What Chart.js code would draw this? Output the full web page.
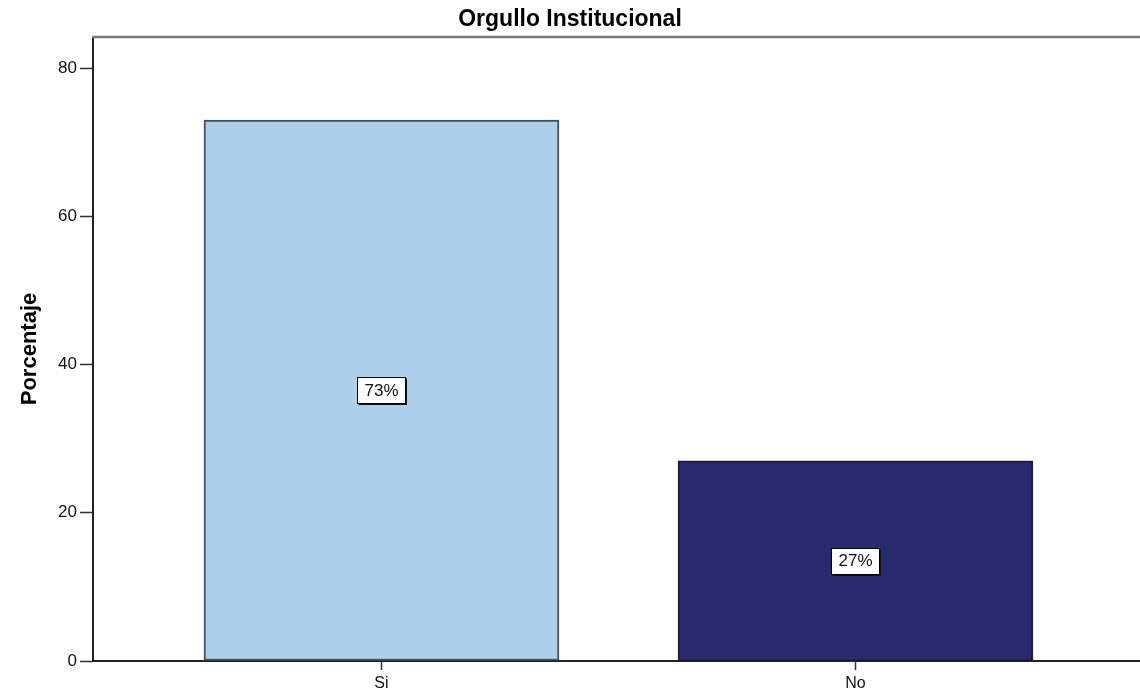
<!DOCTYPE html>
<html>
<head>
<meta charset="utf-8">
<style>
  html, body { margin: 0; padding: 0; background: #ffffff; }
  #wrap { width: 1140px; height: 692px; }
</style>
<script src="https://cdn.jsdelivr.net/npm/chart.js@4/dist/chart.umd.min.js"></script>
</head>
<body>
<div id="wrap"><canvas id="c" width="1140" height="692"></canvas></div>
<script>
const categories = ['Si', 'No'];
const percentages = [73, 27];
const valueLabels = ['73%', '27%'];
const barColors = ['#AECFEC', '#282A70'];
const yTickValues = [0, 20, 40, 60, 80];
const xPositions = [1, 2];

const FONT = "'Liberation Sans', Arial, sans-serif";

const framePlugin = {
  id: 'frame',
  afterDraw(chart) {
    const { ctx, chartArea } = chart;
    ctx.save();
    ctx.strokeStyle = '#7a7a7a';
    ctx.lineWidth = 2.5;
    ctx.beginPath();
    ctx.moveTo(chartArea.left - 1, chartArea.top);
    ctx.lineTo(chart.width, chartArea.top);
    ctx.stroke();
    ctx.restore();
  }
};

const valueLabelPlugin = {
  id: 'valueLabels',
  afterDatasetsDraw(chart) {
    const { ctx } = chart;
    const meta = chart.getDatasetMeta(0);
    ctx.save();
    ctx.font = '17px ' + FONT;
    ctx.textAlign = 'center';
    ctx.textBaseline = 'middle';
    meta.data.forEach((el, i) => {
      const txt = valueLabels[i];
      const cx = el.x;
      const cy = (el.y + el.base) / 2;
      const tw = ctx.measureText(txt).width;
      const w = Math.round(tw + 14);
      const h = 26;
      const x0 = Math.round(cx - w / 2) + 0.5;
      const y0 = Math.round(cy - h / 2) + 0.5;
      ctx.fillStyle = '#111';
      ctx.fillRect(x0 + 1, y0 + 1, w + 0.5, h + 0.5);
      ctx.fillStyle = '#ffffff';
      ctx.fillRect(x0, y0, w, h);
      ctx.strokeStyle = '#000';
      ctx.lineWidth = 1;
      ctx.strokeRect(x0, y0, w, h);
      ctx.fillStyle = '#111';
      ctx.fillText(txt, cx, cy + 1);
    });
    ctx.restore();
  }
};

new Chart(document.getElementById('c'), {
  type: 'bar',
  data: {
    datasets: [{
      data: xPositions.map((x, i) => ({ x: x, y: percentages[i] })),
      backgroundColor: barColors,
      borderColor: ['#465058', '#1c1c3c'],
      borderWidth: 2,
      borderSkipped: false,
      barThickness: 355
    }]
  },
  options: {
    responsive: false,
    animation: false,
    devicePixelRatio: 1,
    layout: { padding: { left: 0, right: 0, top: 0, bottom: 0 } },
    plugins: {
      legend: { display: false },
      tooltip: { enabled: false },
      title: {
        display: true,
        text: 'Orgullo Institucional',
        color: '#000',
        font: { family: FONT, size: 23, weight: 'bold', lineHeight: 1.2 },
        padding: { top: 6, bottom: 3.4 }
      }
    },
    scales: {
      x: {
        type: 'linear',
        offset: false,
        min: 0.3914,
        max: 2.6002,
        afterFit(s) { s.height = 31; },
        afterBuildTicks(s) { s.ticks = xPositions.map(v => ({ value: v })); },
        grid: { display: true, offset: false, drawOnChartArea: false, drawTicks: true, tickLength: 9, tickColor: '#333', tickWidth: 1.5 },
        border: { display: true, color: '#222', width: 2 },
        ticks: {
          padding: 4,
          color: '#111',
          font: { family: FONT, size: 16 },
          maxRotation: 0,
          autoSkip: false,
          callback: (v) => { const i = xPositions.indexOf(v); return i >= 0 ? categories[i] : ''; }
        }
      },
      y: {
        min: 0,
        max: 84.2,
        afterFit(s) { s.width = 93; },
        afterBuildTicks(s) { s.ticks = yTickValues.map(v => ({ value: v })); },
        grid: { display: true, drawOnChartArea: false, drawTicks: true, tickLength: 13, tickColor: '#333', tickWidth: 1.5 },
        border: { display: true, color: '#222', width: 2 },
        title: {
          display: true,
          text: 'Porcentaje',
          color: '#000',
          font: { family: FONT, size: 22, weight: 'bold' },
          padding: { top: 17, bottom: 0 }
        },
        ticks: {
          padding: 3,
          color: '#111',
          font: { family: FONT, size: 17 }
        }
      }
    }
  },
  plugins: [framePlugin, valueLabelPlugin]
});
</script>
</body>
</html>
